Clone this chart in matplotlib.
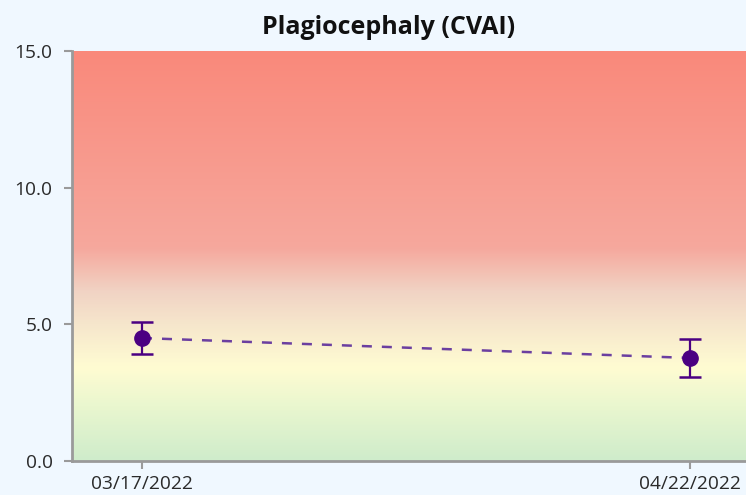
import numpy as np
import matplotlib
matplotlib.use("Agg")
import matplotlib.pyplot as plt
import matplotlib.dates as mdates
from matplotlib.colors import LinearSegmentedColormap
from datetime import datetime

# ----- data -----
dates = ["03/17/2022", "04/22/2022"]
cvai = [4.5, 3.77]
cvai_err = [0.57, 0.7]

y_min, y_max = 0.0, 15.0
y_ticks = [0.0, 5.0, 10.0, 15.0]

# background band colours (value, colour)
bg_stops = [(0.0, "#cfeccb"), (2.0, "#eaf7cf"), (3.4, "#fffcd2"), (5.0, "#f6e6cc"),
            (6.2, "#f1d3c4"), (7.8, "#f6a89d"), (15.0, "#fa897b")]

plt.rcParams['font.family'] = ['Open Sans', 'DejaVu Sans']

x = [datetime.strptime(d, "%m/%d/%Y") for d in dates]
xnum = mdates.date2num(x)

fig = plt.figure(figsize=(7.46, 4.95), dpi=100, facecolor="#f0f8ff")
ax = fig.add_axes([0.0965, 0.0687, 0.9035, 0.828])
ax.set_facecolor("#f0f8ff")

# gradient background
cmap = LinearSegmentedColormap.from_list(
    "bands", [((v - y_min) / (y_max - y_min), c) for v, c in bg_stops])
grad = np.linspace(y_min, y_max, 400).reshape(-1, 1)
x_left = xnum[0] - 4.6
x_right = xnum[-1] + 3.68
ax.imshow(grad, cmap=cmap, vmin=y_min, vmax=y_max, origin="lower", aspect="auto",
          extent=[x_left, x_right, y_min, y_max], interpolation="bicubic", zorder=0)

ax.plot(xnum, cvai, linestyle=(0, (4, 4)), color="#6b3fa0", lw=1.8, zorder=2)
ax.errorbar(xnum, cvai, yerr=cvai_err, fmt="o", color="#4b0082", ms=11,
            ecolor="#4b0082", elinewidth=1.6, capsize=8, capthick=1.8, zorder=3)

ax.set_xlim(x_left, x_right)
ax.set_ylim(y_min, y_max)
ax.set_xticks(xnum)
ax.set_xticklabels(dates)
ax.set_yticks(y_ticks)
ax.set_yticklabels([f"{v:.1f}" for v in y_ticks])

for s in ["top", "right"]:
    ax.spines[s].set_visible(False)
for s in ["left", "bottom"]:
    ax.spines[s].set_color("#9a9a9a")
    ax.spines[s].set_linewidth(2)
ax.tick_params(colors="#9a9a9a", length=6, width=1.5, labelcolor="#2a2a2a",
               labelsize=13.8)
ax.tick_params(axis="y", pad=8)
ax.tick_params(axis="x", pad=4)

ax.set_title("Plagiocephaly (CVAI)", fontsize=18, fontweight="bold", color="#111111",
             x=0.47, pad=12)

fig.savefig("out.png", dpi=100, facecolor=fig.get_facecolor())
